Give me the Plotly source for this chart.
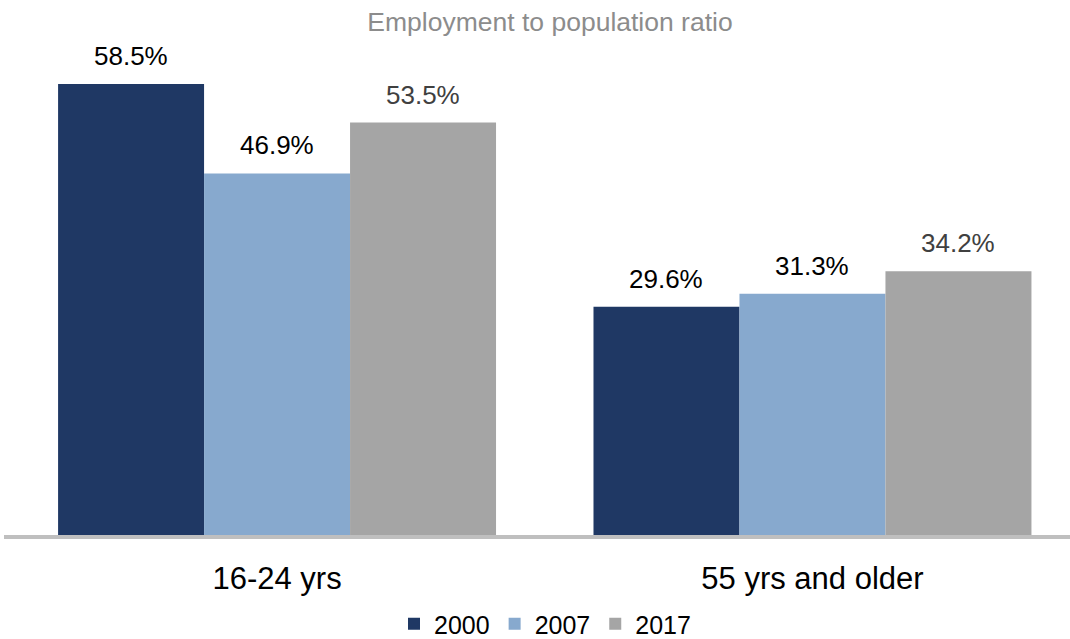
import plotly.graph_objects as go

categories = ["16-24 yrs", "55 yrs and older"]
years = ["2000", "2007", "2017"]
values_2000 = [58.5, 29.6]
values_2007 = [46.9, 31.3]
values_2017 = [53.5, 34.2]

series = [values_2000, values_2007, values_2017]
bar_colors = ["#1F3864", "#87A9CE", "#A5A5A5"]
label_colors = ["#000000", "#000000", "#404040"]

BARGAP = 0.182
bar_w = (1 - BARGAP) / len(years)
x_pos = list(range(len(categories)))

fig = go.Figure()
for j, (yr, vals, col) in enumerate(zip(years, series, bar_colors)):
    fig.add_trace(go.Bar(
        x=x_pos, y=vals, name=yr,
        marker=dict(color=col, line=dict(width=0)),
        hoverinfo="skip",
    ))

# value labels above each bar
annotations = []
for j, vals in enumerate(series):
    for i, v in enumerate(vals):
        annotations.append(dict(
            x=i + (j - 1) * bar_w, y=v, xref="x", yref="y",
            text=f"{v:.1f}%", showarrow=False,
            yanchor="middle", yshift=28,
            font=dict(family="Liberation Sans, Arial", size=26, color=label_colors[j]),
        ))

fig.update_layout(
    width=1070, height=639,
    margin=dict(l=4, r=0, t=40, b=104, autoexpand=False),
    paper_bgcolor="white", plot_bgcolor="white",
    barmode="group", bargap=BARGAP, bargroupgap=0,
    title=dict(
        text="Employment to population ratio",
        x=550 / 1070, xanchor="center", xref="container",
        y=1 - 22 / 639, yanchor="middle", yref="container",
        font=dict(family="Liberation Sans, Arial", size=26.5, color="#8C8C8C"),
    ),
    xaxis=dict(
        range=[-0.51, 1.481], tickvals=x_pos, ticktext=categories,
        showline=True, linecolor="#BFBFBF", linewidth=4,
        ticks="outside", ticklen=13, tickcolor="rgba(0,0,0,0)",
        tickfont=dict(family="Liberation Sans, Arial", size=31, color="#000000"),
        showgrid=False, zeroline=False, fixedrange=True,
    ),
    yaxis=dict(
        range=[0, 495 / 7.71], visible=False, showgrid=False, zeroline=False,
    ),
    legend=dict(
        orientation="h", x=545 / 1070, xanchor="center", xref="container",
        y=1 - 624 / 639, yanchor="middle", yref="container",
        font=dict(family="Liberation Sans, Arial", size=25, color="#000000"),
        itemwidth=30, tracegroupgap=0,
    ),
    annotations=annotations,
    showlegend=True,
)

fig.write_html("out.html")
